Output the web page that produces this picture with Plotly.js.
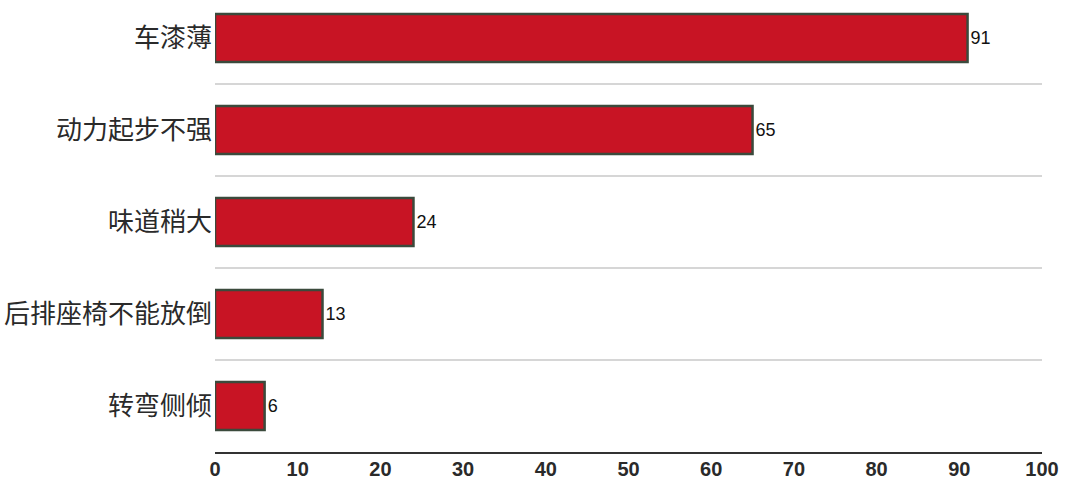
<!DOCTYPE html>
<html>
<head>
<meta charset="utf-8">
<script src="https://cdn.plot.ly/plotly-3.0.1.min.js"></script>
<style>html,body{margin:0;padding:0;background:#fff;}#chart{width:1080px;height:497px;}</style>
</head>
<body>
<div id="chart"></div>
<script>
const categories = ["车漆薄", "动力起步不强", "味道稍大", "后排座椅不能放倒", "转弯侧倾"];
const values = [91, 65, 24, 13, 6];
const xTicks = [0, 10, 20, 30, 40, 50, 60, 70, 80, 90, 100];

const trace = {
  type: 'bar',
  orientation: 'h',
  y: categories,
  x: values,
  text: values.map(String),
  textposition: 'outside',
  cliponaxis: false,
  textfont: {family: 'Liberation Sans, Arial, sans-serif', size: 18, color: '#111'},
  marker: {color: '#C81424', line: {color: '#3B4A3C', width: 2.5}},
  hoverinfo: 'none'
};

const layout = {
  width: 1080, height: 497,
  margin: {l: 215, r: 38, t: 0, b: 45},
  paper_bgcolor: '#fff', plot_bgcolor: '#fff',
  bargap: 0.48,
  showlegend: false,
  xaxis: {
    range: [0, 100],
    tickvals: xTicks,
    showgrid: false,
    zeroline: false,
    showline: true, linecolor: '#333', linewidth: 2,
    ticks: '',
    ticklabelstandoff: -2,
    tickfont: {family: 'Liberation Sans, Arial, sans-serif', size: 20, color: '#2a2a2a', weight: 'bold'}
  },
  yaxis: {
    type: 'category',
    categoryorder: 'array', categoryarray: categories,
    range: [4.5, -0.413],
    tickson: 'boundaries',
    ticks: '',
    showgrid: true, gridcolor: '#d6d6d6', gridwidth: 1.5,
    zeroline: false, showline: false,
    ticklabelstandoff: 2,
    tickfont: {family: 'Noto Sans CJK SC, sans-serif', size: 26, color: '#2a2a2a'}
  }
};

Plotly.newPlot('chart', [trace], layout, {staticPlot: true, displayModeBar: false});
</script>
</body>
</html>
